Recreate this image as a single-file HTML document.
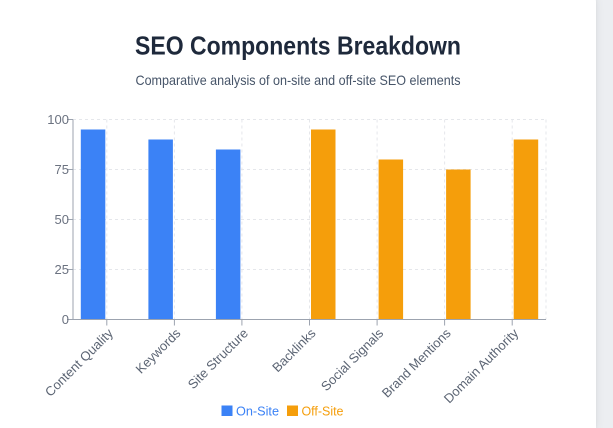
<!DOCTYPE html>
<html>
<head>
<meta charset="utf-8">
<style>
  html, body { margin:0; padding:0; width:613px; height:428px; overflow:hidden; }
  body { background:#eceef1; position:relative; font-family:"Liberation Sans", Arial, sans-serif; }
  .card { position:absolute; left:-20px; top:-8px; width:616px; height:436px; background:#ffffff; border-radius:0 10px 0 0; box-shadow: 0 2px 10px rgba(0,0,0,0.07), 0 1px 3px rgba(0,0,0,0.05); }
  svg { position:absolute; left:0; top:0; }
</style>
</head>
<body>
<div class="card"></div>
<svg width="613" height="428" viewBox="0 0 613 428" xmlns="http://www.w3.org/2000/svg" font-family="Liberation Sans, Arial, sans-serif">
  <!-- Title -->
  <text x="298" y="54.5" text-anchor="middle" font-size="26" font-weight="bold" fill="#1e293b" textLength="326" lengthAdjust="spacingAndGlyphs">SEO Components Breakdown</text>
  <text x="298" y="85" text-anchor="middle" font-size="14" fill="#475569" textLength="325" lengthAdjust="spacingAndGlyphs">Comparative analysis of on-site and off-site SEO elements</text>

  <!-- Grid -->
  <g stroke="#e5e7eb" stroke-width="1" stroke-dasharray="3 3" fill="none">
    <line x1="73" y1="119.5" x2="546" y2="119.5"/>
    <line x1="73" y1="169.5" x2="546" y2="169.5"/>
    <line x1="73" y1="219.5" x2="546" y2="219.5"/>
    <line x1="73" y1="269.5" x2="546" y2="269.5"/>
    <line x1="106.8" y1="119.5" x2="106.8" y2="319.5"/>
    <line x1="174.4" y1="119.5" x2="174.4" y2="319.5"/>
    <line x1="241.9" y1="119.5" x2="241.9" y2="319.5"/>
    <line x1="309.5" y1="119.5" x2="309.5" y2="319.5"/>
    <line x1="377.1" y1="119.5" x2="377.1" y2="319.5"/>
    <line x1="444.6" y1="119.5" x2="444.6" y2="319.5"/>
    <line x1="512.2" y1="119.5" x2="512.2" y2="319.5"/>
    <line x1="546" y1="119.5" x2="546" y2="319.5"/>
  </g>

  <!-- Bars On-Site -->
  <g fill="#3b82f6">
    <rect x="80.8" y="129.5" width="24.5" height="190"/>
    <rect x="148.4" y="139.5" width="24.5" height="180"/>
    <rect x="215.9" y="149.5" width="24.5" height="170"/>
  </g>
  <!-- Bars Off-Site -->
  <g fill="#f59e0b">
    <rect x="311" y="129.5" width="24.5" height="190"/>
    <rect x="378.6" y="159.5" width="24.5" height="160"/>
    <rect x="446.1" y="169.5" width="24.5" height="150"/>
    <rect x="513.7" y="139.5" width="24.5" height="180"/>
  </g>

  <!-- Axes -->
  <g stroke="#9ca3af" stroke-width="1" fill="none">
    <line x1="73" y1="119.5" x2="73" y2="319.5"/>
    <line x1="73" y1="319.5" x2="546" y2="319.5"/>
    <line x1="67" y1="119.5" x2="73" y2="119.5"/>
    <line x1="67" y1="169.5" x2="73" y2="169.5"/>
    <line x1="67" y1="219.5" x2="73" y2="219.5"/>
    <line x1="67" y1="269.5" x2="73" y2="269.5"/>
    <line x1="67" y1="319.5" x2="73" y2="319.5"/>
    <line x1="106.8" y1="319.5" x2="106.8" y2="325.5"/>
    <line x1="174.4" y1="319.5" x2="174.4" y2="325.5"/>
    <line x1="241.9" y1="319.5" x2="241.9" y2="325.5"/>
    <line x1="309.5" y1="319.5" x2="309.5" y2="325.5"/>
    <line x1="377.1" y1="319.5" x2="377.1" y2="325.5"/>
    <line x1="444.6" y1="319.5" x2="444.6" y2="325.5"/>
    <line x1="512.2" y1="319.5" x2="512.2" y2="325.5"/>
  </g>

  <!-- Y tick labels -->
  <g font-size="13" fill="#6b7280" text-anchor="end">
    <text x="69" y="124">100</text>
    <text x="69" y="174">75</text>
    <text x="69" y="224">50</text>
    <text x="69" y="274">25</text>
    <text x="69" y="324">0</text>
  </g>

  <!-- X tick labels -->
  <g font-size="13" fill="#5b6473" text-anchor="end">
    <text transform="translate(113.8,334) rotate(-45)">Content Quality</text>
    <text transform="translate(181.4,334) rotate(-45)">Keywords</text>
    <text transform="translate(248.9,334) rotate(-45)">Site Structure</text>
    <text transform="translate(316.5,334) rotate(-45)">Backlinks</text>
    <text transform="translate(384.1,334) rotate(-45)">Social Signals</text>
    <text transform="translate(451.6,334) rotate(-45)">Brand Mentions</text>
    <text transform="translate(519.2,334) rotate(-45)">Domain Authority</text>
  </g>

  <!-- Legend -->
  <rect x="221.5" y="405.5" width="11" height="10.5" fill="#3b82f6"/>
  <text x="236" y="415.5" font-size="13" fill="#3b82f6" textLength="43" lengthAdjust="spacingAndGlyphs">On-Site</text>
  <rect x="287" y="405.5" width="11" height="10.5" fill="#f59e0b"/>
  <text x="301.5" y="415.5" font-size="13" fill="#f59e0b" textLength="42" lengthAdjust="spacingAndGlyphs">Off-Site</text>
</svg>
</body>
</html>
